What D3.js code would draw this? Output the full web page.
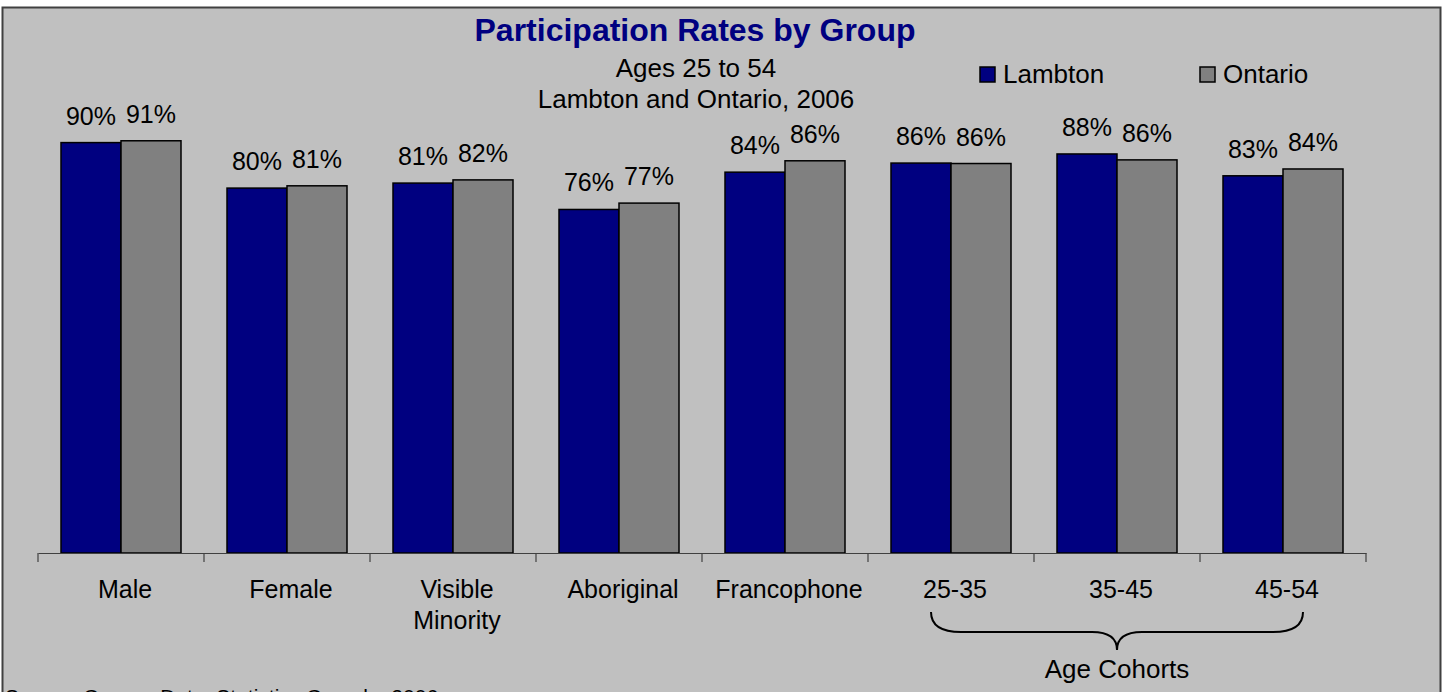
<!DOCTYPE html>
<html>
<head>
<meta charset="utf-8">
<script src="https://cdn.jsdelivr.net/npm/d3@7"></script>
<style>
  body { margin: 0; background: #fff; }
  text { font-family: "Liberation Sans", Arial, sans-serif; }
</style>
</head>
<body>
<div id="chart"></div>
<script>

// chart data (labels are rounded)
var categories = ["Male", "Female", "Visible Minority", "Aboriginal", "Francophone", "25-35", "35-45", "45-54"];
var seriesNames = ["Lambton", "Ontario"];
var lambton = [90.2, 80.2, 81.3, 75.5, 83.7, 85.7, 87.7, 82.9];
var ontario = [90.6, 80.7, 82.0, 76.9, 86.2, 85.6, 86.4, 84.4];
var colors = ["#000080", "#808080"];
var ageGroups = ["25-35", "35-45", "45-54"];

var W = 1442, H = 692;
var margin = {left: 38, right: 76, base: 553};

var svg = d3.select("#chart").append("svg")
    .attr("width", W)
    .attr("height", H);

// frame
svg.append("rect")
    .attr("x", 2.5).attr("y", 7.5)
    .attr("width", W - 4).attr("height", H + 20)
    .attr("fill", "#c0c0c0")
    .attr("stroke", "#404040")
    .attr("stroke-width", 2);

// scales
var x = d3.scaleBand()
    .domain(categories)
    .range([margin.left, W - margin.right]);

var xs = d3.scaleBand()
    .domain(seriesNames)
    .range([23, 143]);

var y = d3.scaleLinear()
    .domain([0, 100])
    .range([margin.base, margin.base - 455]);

var rows = categories.map(function(c, i) {
    return {cat: c, vals: [
        {s: "Lambton", v: lambton[i]},
        {s: "Ontario", v: ontario[i]}
    ]};
});

// bars
var groups = svg.selectAll(".grp")
    .data(rows)
  .enter().append("g")
    .attr("class", "grp")
    .attr("transform", function(d) { return "translate(" + x(d.cat) + ",0)"; });

groups.selectAll("rect")
    .data(function(d) { return d.vals; })
  .enter().append("rect")
    .attr("x", function(d) { return xs(d.s); })
    .attr("y", function(d) { return y(d.v); })
    .attr("width", xs.bandwidth())
    .attr("height", function(d) { return y(0) - y(d.v); })
    .attr("fill", function(d, i) { return colors[i]; })
    .attr("stroke", "#000")
    .attr("stroke-width", 1.5);

groups.selectAll(".lbl")
    .data(function(d) { return d.vals; })
  .enter().append("text")
    .attr("class", "lbl")
    .attr("x", function(d) { return xs(d.s) + xs.bandwidth() / 2; })
    .attr("y", function(d) { return y(d.v) - 18; })
    .attr("text-anchor", "middle")
    .style("font-size", "25px")
    .attr("fill", "#000")
    .text(function(d) { return Math.round(d.v) + "%"; });

// x axis
var xa = d3.axisBottom(x).tickSize(0).tickFormat("");
var axis = svg.append("g")
    .attr("transform", "translate(0," + margin.base + ")")
    .call(xa);
axis.select(".domain").attr("stroke", "#404040").attr("stroke-width", 1.2);

var tickPos = categories.map(function(c) { return x(c); }).concat([x.range()[1]]);
axis.selectAll(".sep")
    .data(tickPos)
  .enter().append("line")
    .attr("class", "sep")
    .attr("x1", function(d) { return d; })
    .attr("x2", function(d) { return d; })
    .attr("y1", 0).attr("y2", 9)
    .attr("stroke", "#404040")
    .attr("stroke-width", 1.2);

// category labels
svg.selectAll(".cat")
    .data(categories)
  .enter().append("text")
    .attr("class", "cat")
    .attr("x", function(d) { return x(d) + x.bandwidth() / 2 + 4; })
    .attr("y", 598)
    .attr("text-anchor", "middle")
    .style("font-size", "25px")
    .each(function(d) {
        var words = d.split(" ");
        var t = d3.select(this);
        words.forEach(function(w, i) {
            t.append("tspan")
                .attr("x", x(d) + x.bandwidth() / 2 + 4)
                .attr("dy", i == 0 ? 0 : 31)
                .text(w);
        });
    });

// brace under age cohorts
var bx0 = x(ageGroups[0]) + x.bandwidth() / 2 - 20;
var bx1 = x(ageGroups[2]) + x.bandwidth() / 2 + 20;
var bmid = x(ageGroups[1]) + x.bandwidth() / 2;
var by0 = 612, by1 = 632, by2 = 650;
var brace = d3.path();
brace.moveTo(bx0, by0);
brace.quadraticCurveTo(bx0, by1, bx0 + 30, by1);
brace.lineTo(bmid - 25, by1);
brace.quadraticCurveTo(bmid, by1, bmid, by2);
brace.quadraticCurveTo(bmid, by1, bmid + 25, by1);
brace.lineTo(bx1 - 30, by1);
brace.quadraticCurveTo(bx1, by1, bx1, by0);
svg.append("path")
    .attr("d", brace.toString())
    .attr("fill", "none")
    .attr("stroke", "#000")
    .attr("stroke-width", 2);

svg.append("text")
    .attr("x", bmid)
    .attr("y", 678)
    .attr("text-anchor", "middle")
    .style("font-size", "26px")
    .text("Age Cohorts");

// titles
svg.append("text")
    .attr("x", 695).attr("y", 41)
    .attr("text-anchor", "middle")
    .style("font-size", "32px")
    .style("font-weight", "bold")
    .attr("fill", "#000080")
    .text("Participation Rates by Group");

svg.append("text")
    .attr("x", 696).attr("y", 77)
    .attr("text-anchor", "middle")
    .style("font-size", "26px")
    .text("Ages 25 to 54");

svg.append("text")
    .attr("x", 696).attr("y", 108)
    .attr("text-anchor", "middle")
    .style("font-size", "26px")
    .text("Lambton and Ontario, 2006");

// legend
var legX = [980, 1200];
var leg = svg.selectAll(".leg")
    .data(seriesNames)
  .enter().append("g")
    .attr("class", "leg")
    .attr("transform", function(d, i) { return "translate(" + legX[i] + ",67)"; });

leg.append("rect")
    .attr("width", 15).attr("height", 15)
    .attr("fill", function(d, i) { return colors[i]; })
    .attr("stroke", "#000")
    .attr("stroke-width", 1.5);

leg.append("text")
    .attr("x", 23).attr("y", 16)
    .style("font-size", "26px")
    .text(function(d) { return d; });

// source note (cut off at bottom, as in the original)
svg.append("text")
    .attr("x", 5).attr("y", 704)
    .style("font-size", "21px")
    .text("Source: Census Data, Statistics Canada, 2006");

</script>
</body>
</html>
